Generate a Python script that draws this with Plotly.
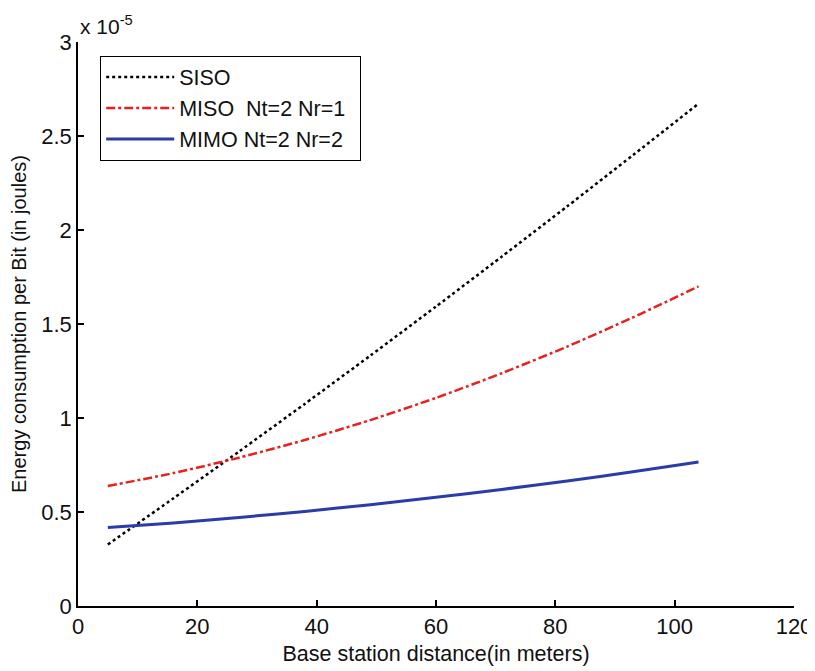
import plotly.graph_objects as go

# Base station distance (m)
distance_m = [5, 16, 27, 38, 49, 60, 71, 82, 93, 104]
# Energy consumption per bit, in units of 1e-5 J
energy_siso = [0.327, 0.573, 0.822, 1.075, 1.332, 1.593, 1.858, 2.126, 2.398, 2.672]
energy_miso = [0.638, 0.707, 0.789, 0.883, 0.989, 1.107, 1.238, 1.380, 1.535, 1.700]
energy_mimo = [0.417, 0.442, 0.471, 0.503, 0.539, 0.578, 0.620, 0.665, 0.714, 0.766]

series_names = ["SISO", "MISO\u00a0\u00a0Nt=2 Nr=1", "MIMO Nt=2 Nr=2\u00a0\u00a0"]
x_ticks = [0, 20, 40, 60, 80, 100, 120]
y_ticks = [0, 0.5, 1, 1.5, 2, 2.5, 3]
y_tick_labels = ["0", "0.5", "1", "1.5", "2", "2.5", "3"]

FONT = "Liberation Sans, Arial, sans-serif"
FS = 21

fig = go.Figure()
fig.add_trace(go.Scatter(x=distance_m, y=energy_siso, mode="lines", name=series_names[0],
                         line=dict(color="black", width=2.5, dash="dot", shape="spline", smoothing=0.6)))
fig.add_trace(go.Scatter(x=distance_m, y=energy_miso, mode="lines", name=series_names[1],
                         line=dict(color="rgb(232,32,30)", width=2.5, dash="dashdot", shape="spline", smoothing=0.6)))
fig.add_trace(go.Scatter(x=distance_m, y=energy_mimo, mode="lines", name=series_names[2],
                         line=dict(color="rgb(42,60,168)", width=3, shape="spline", smoothing=0.6)))

# page body adds an 8px offset; figure is sized/margined to compensate
fig.update_layout(
    width=807, height=663,
    margin=dict(l=70, r=21, t=34, b=65),
    paper_bgcolor="white", plot_bgcolor="white",
    font=dict(family=FONT, size=FS, color="#111"),
    showlegend=True,
    legend=dict(x=0.031, y=0.976, xanchor="left", yanchor="top",
                bordercolor="black", borderwidth=1, bgcolor="white",
                font=dict(size=21.5, color="#111"), itemwidth=68,
                tracegroupgap=0),
    xaxis=dict(range=[0, 120], tickvals=x_ticks, showgrid=False, zeroline=False,
               showline=True, linecolor="black", linewidth=1.5, automargin=False,
               ticks="inside", ticklen=6, tickcolor="black", tickwidth=1.5,
               tickfont=dict(size=22),
               title=dict(text="Base station distance(in meters)", font=dict(size=21.5), standoff=8)),
    yaxis=dict(range=[0, 3], tickvals=y_ticks, ticktext=y_tick_labels, showgrid=False, zeroline=False,
               showline=True, linecolor="black", linewidth=1.5, automargin=False,
               ticks="inside", ticklen=6, tickcolor="black", tickwidth=1.5,
               tickfont=dict(size=22),
               title=dict(text="Energy consumption per Bit (in joules)", font=dict(size=20), standoff=16)),
    annotations=[dict(text="x 10<sup>-5</sup>", xref="paper", yref="paper", x=0.0, y=1.0,
                      xanchor="left", yanchor="bottom", showarrow=False,
                      font=dict(size=FS, color="#111"), xshift=0, yshift=2)],
)

fig.write_html("out.html")
